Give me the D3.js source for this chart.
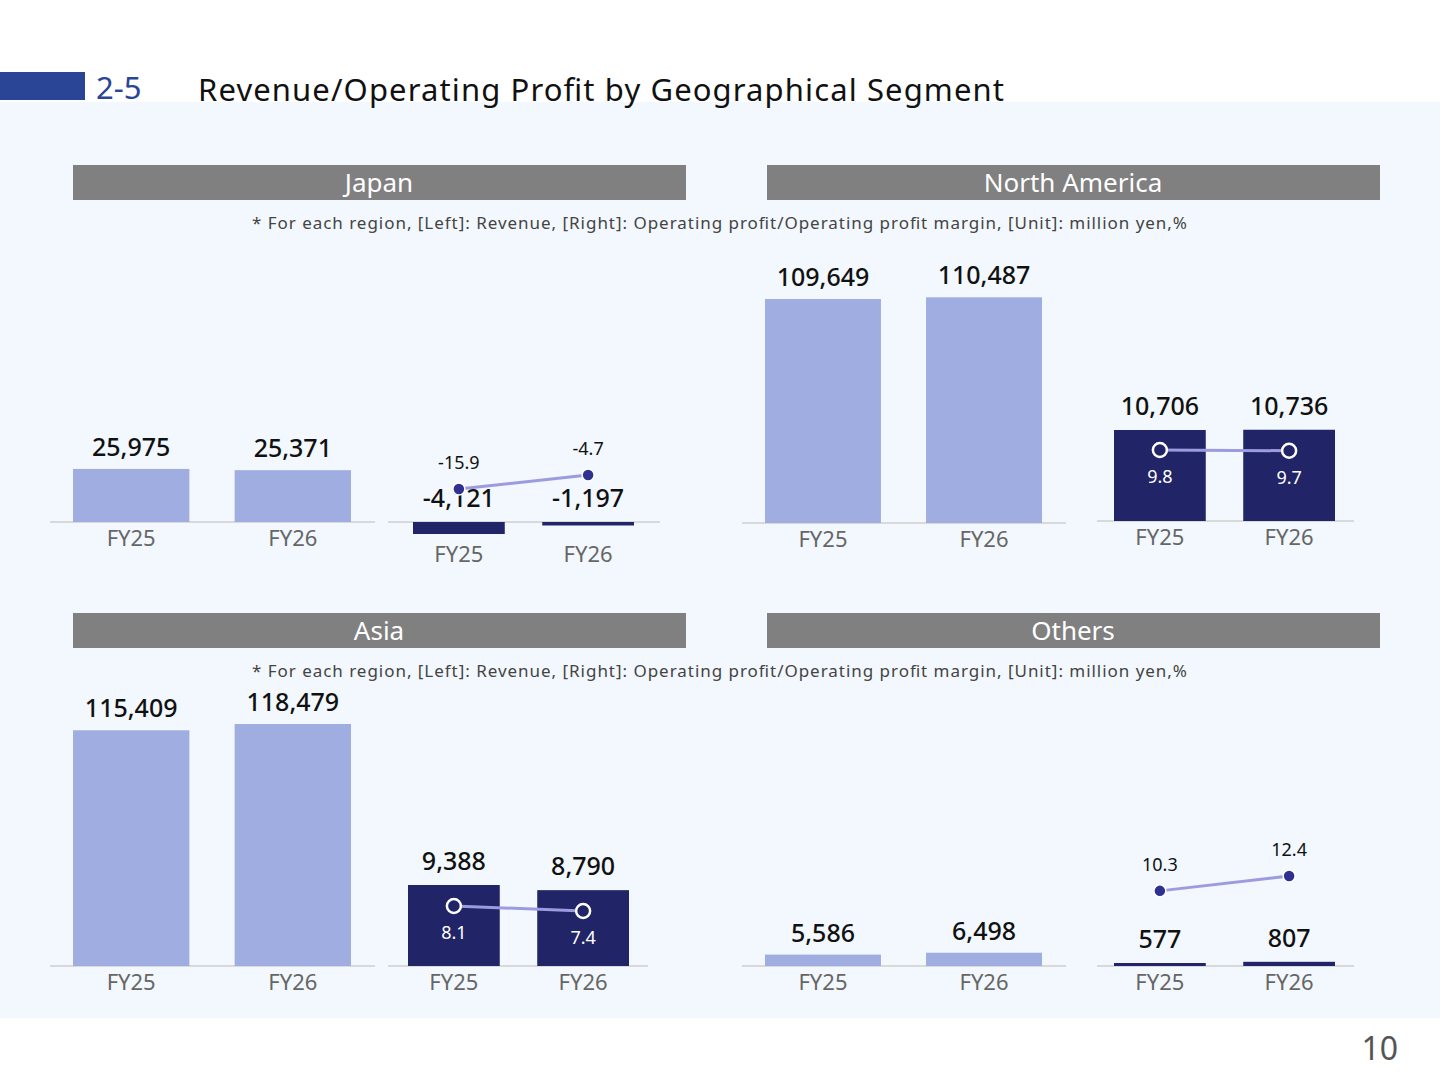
<!DOCTYPE html><html><head><meta charset="utf-8">
<script src="https://cdn.jsdelivr.net/npm/d3@7"></script>
<style>body{margin:0;background:#fff}svg{display:block;font-family:"Noto Sans","Noto Sans CJK JP",sans-serif}</style></head><body>
<svg id="c" width="1440" height="1080"></svg>
<script>
const years=["FY25","FY26"];
const regions=["Japan","North America","Asia","Others"];
const revenue={"Japan":[25975,25371],"North America":[109649,110487],"Asia":[115409,118479],"Others":[5586,6498]};
const profit={"Japan":[-4121,-1197],"North America":[10706,10736],"Asia":[9388,8790],"Others":[577,807]};
const margin={"Japan":[-15.9,-4.7],"North America":[9.8,9.7],"Asia":[8.1,7.4],"Others":[10.3,12.4]};
const note="* For each region, [Left]: Revenue, [Right]: Operating profit/Operating profit margin, [Unit]: million yen,%";

// layout
const L={
 "Japan":{hx:73,hy:165,base:522,rx:[50,375],px:[388,660],pw:[413,634],pbase:522,pk:12/4121,mk:1.25,mi:52.9},
 "North America":{hx:767,hy:165,base:523,rx:[742,1066],px:[1097,1354],pw:[1114,1335],pbase:521,pk:91/10706,mk:7.1,mi:1.4},
 "Asia":{hx:73,hy:613,base:966,rx:[50,375],px:[388,648],pw:[408,629],pbase:966,pk:81/9388,mk:7.1,mi:2.5},
 "Others":{hx:767,hy:613,base:966,rx:[742,1066],px:[1097,1354],pw:[1114,1335],pbase:966,pk:3/577,mk:7.1,mi:2}
};
const svg=d3.select("#c");
svg.append("rect").attr("x",0).attr("y",102).attr("width",1440).attr("height",916).attr("fill","#f2f8fd");
svg.append("rect").attr("x",0).attr("y",72).attr("width",85).attr("height",28).attr("fill","#2b4596");
svg.append("text").attr("x",96).attr("y",99).attr("font-size",31).attr("fill","#2b4596").text("2-5");
svg.append("text").attr("x",198).attr("y",101).attr("font-size",31).attr("fill","#111").attr("textLength",806).text("Revenue/Operating Profit by Geographical Segment");
svg.append("text").attr("x",1398).attr("y",1060).attr("text-anchor","end").attr("font-size",32).attr("fill","#555").text("10");
[222,670].forEach(y=>svg.append("text").attr("x",252).attr("y",y+7).attr("font-size",17).attr("fill","#444").attr("textLength",935).text(note));

const revY=d3.scaleLinear().domain([0,118479]).range([0,242]);
regions.forEach(r=>{
 const c=L[r],g=svg.append("g");
 g.append("rect").attr("x",c.hx).attr("y",c.hy).attr("width",613).attr("height",35).attr("fill","#808080");
 g.append("text").attr("x",c.hx+306).attr("y",c.hy+27).attr("text-anchor","middle").attr("fill","#fff").attr("font-size",26).text(r);
 const xr=d3.scaleBand().domain(years).range([c.rx[0]+23,c.rx[1]-24]).paddingInner(0.28);
 g.append("line").attr("x1",c.rx[0]).attr("x2",c.rx[1]).attr("y1",c.base).attr("y2",c.base).attr("stroke","#d9d9d9").attr("stroke-width",2);
 years.forEach((y,i)=>{
  const h=revY(revenue[r][i]);
  g.append("rect").attr("x",xr(y)).attr("y",c.base-h).attr("width",xr.bandwidth()).attr("height",h).attr("fill","#9fade0");
  g.append("text").attr("x",xr(y)+xr.bandwidth()/2).attr("y",c.base-h-13).attr("text-anchor","middle").attr("font-size",25).attr("font-weight",500).attr("fill","#111").text(d3.format(",")(revenue[r][i]));
  g.append("text").attr("x",xr(y)+xr.bandwidth()/2).attr("y",c.base+24).attr("text-anchor","middle").attr("font-size",22).attr("fill","#666").text(y);
 });
 const xp=d3.scaleBand().domain(years).range(c.pw).paddingInner(0.29);
 const py=d3.scaleLinear().domain([0,1]).range([c.pbase,c.pbase-c.pk]);
 const my=v=>c.pbase-(c.mi+c.mk*v);
 g.append("line").attr("x1",c.px[0]).attr("x2",c.px[1]).attr("y1",c.pbase).attr("y2",c.pbase).attr("stroke","#d9d9d9").attr("stroke-width",2);
 const neg=profit[r][0]<0;
 years.forEach((y,i)=>{
  const v=profit[r][i],y0=py(Math.max(0,v)),y1=py(Math.min(0,v));
  const cx=xp(y)+xp.bandwidth()/2;
  g.append("rect").attr("x",xp(y)).attr("y",y0).attr("width",xp.bandwidth()).attr("height",Math.max(3,y1-y0)).attr("fill","#212466");
  g.append("text").attr("x",cx).attr("y",neg?c.pbase-15:y0-15).attr("text-anchor","middle").attr("font-size",25).attr("font-weight",500).attr("fill","#111").text(d3.format(",")(v).replace("−","-"));
  g.append("text").attr("x",cx).attr("y",neg?c.pbase+40:c.pbase+24).attr("text-anchor","middle").attr("font-size",22).attr("fill","#666").text(y);
 });
 const pts=years.map((y,i)=>[xp(y)+xp.bandwidth()/2,my(margin[r][i])]);
 g.append("path").attr("d",d3.line()(pts)).attr("stroke","#9d9be0").attr("stroke-width",3).attr("fill","none");
 years.forEach((y,i)=>{
  const inside=profit[r][i]>0&&pts[i][1]>py(profit[r][i]);
  g.append("circle").attr("cx",pts[i][0]).attr("cy",pts[i][1]).attr("r",inside?7:6).attr("fill",inside?"#212466":"#2e3192").attr("stroke","#fff").attr("stroke-width",inside?2.5:1.5);
  g.append("text").attr("x",pts[i][0]).attr("y",inside?pts[i][1]+33:pts[i][1]-20).attr("text-anchor","middle").attr("font-size",18).attr("fill",inside?"#fff":"#111").text(margin[r][i].toFixed(1));
 });
});
</script></body></html>
